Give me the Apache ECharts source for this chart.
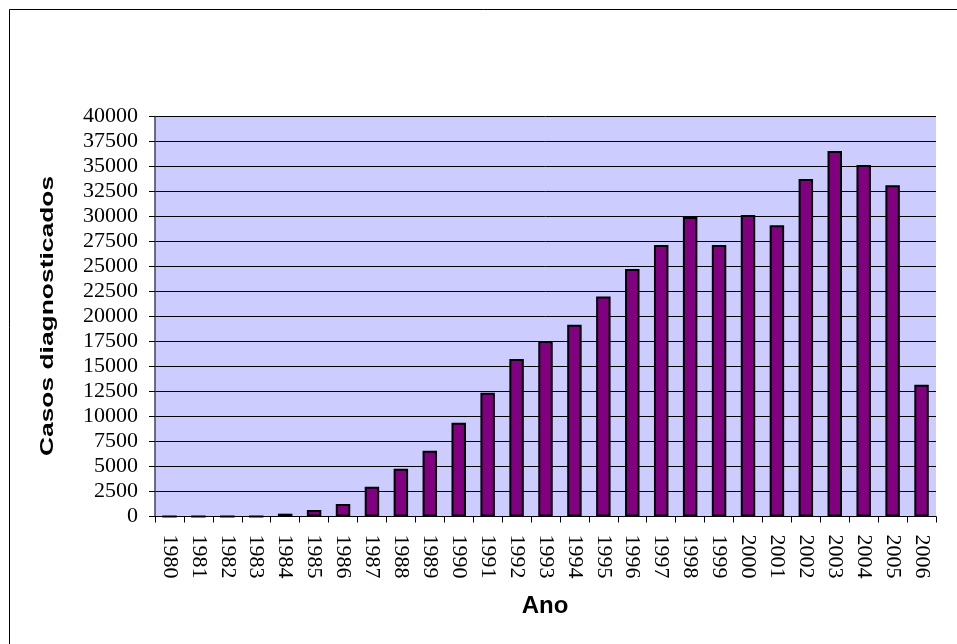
<!DOCTYPE html>
<html>
<head>
<meta charset="utf-8">
<script src="https://cdn.jsdelivr.net/npm/echarts@6/dist/echarts.min.js"></script>
<style>
  html, body { margin: 0; padding: 0; background: #fff; }
  #chart { width: 957px; height: 644px; }
</style>
</head>
<body>
<div id="chart"></div>
<script>
// Diagnosed cases per year
const years = ['1980','1981','1982','1983','1984','1985','1986','1987','1988','1989',
  '1990','1991','1992','1993','1994','1995','1996','1997','1998','1999',
  '2000','2001','2002','2003','2004','2005','2006'];
const casos = [0, 0, 0, 0, 280, 650, 1250, 2980, 4780, 6580,
  9380, 12380, 15750, 17550, 19180, 22000, 24750, 27150, 29950, 27150,
  30150, 29120, 33750, 36550, 35150, 33120, 13180];
const yTicks = { min: 0, max: 40000, step: 2500 };
const xTitle = 'Ano';
const yTitle = 'Casos diagnosticados';

const chart = echarts.init(document.getElementById('chart'), null, { renderer: 'canvas' });

const titleFont = { fontFamily: 'Liberation Sans', fontWeight: 'bold', fontSize: 24, fill: '#000' };

chart.setOption({
  animation: false,
  backgroundColor: '#ffffff',
  graphic: [
    {
      // outer frame
      type: 'rect',
      shape: { x: 9.5, y: 9.5, width: 980, height: 700 },
      style: { fill: 'none', stroke: '#000', lineWidth: 1 },
      silent: true
    },
    {
      type: 'text',
      x: 48, y: 316,
      rotation: Math.PI / 2,
      scaleX: 1.1, scaleY: 0.78,
      style: Object.assign({ text: yTitle, align: 'center', verticalAlign: 'middle' }, titleFont),
      silent: true
    },
    {
      type: 'text',
      x: 545, y: 606,
      style: Object.assign({ text: xTitle, align: 'center', verticalAlign: 'middle' }, titleFont),
      silent: true
    }
  ],
  grid: {
    left: 155, right: 21, top: 116.5, bottom: 127.5,
    show: true, backgroundColor: '#ccccff', borderWidth: 0
  },
  xAxis: {
    type: 'category',
    data: years,
    axisLine: { show: true, lineStyle: { color: '#000', width: 1 } },
    axisTick: { show: true, alignWithLabel: false, length: 6, lineStyle: { color: '#000' } },
    axisLabel: {
      rotate: -90, margin: 18,
      fontFamily: 'Liberation Serif', fontSize: 22, color: '#000'
    },
    splitLine: { show: false }
  },
  yAxis: {
    type: 'value',
    min: yTicks.min, max: yTicks.max, interval: yTicks.step,
    axisLine: { show: true, lineStyle: { color: '#404060', width: 1.5 } },
    axisTick: { show: true, length: 6, lineStyle: { color: '#000' } },
    axisLabel: {
      margin: 17,
      formatter: (v) => String(v),
      fontFamily: 'Liberation Serif', fontSize: 22, color: '#000'
    },
    splitLine: { show: true, lineStyle: { color: '#000', width: 1 } }
  },
  series: [{
    type: 'bar',
    data: casos,
    barWidth: '50%',
    itemStyle: { color: '#800080', borderColor: '#000', borderWidth: 2 }
  }]
});
</script>
</body>
</html>
